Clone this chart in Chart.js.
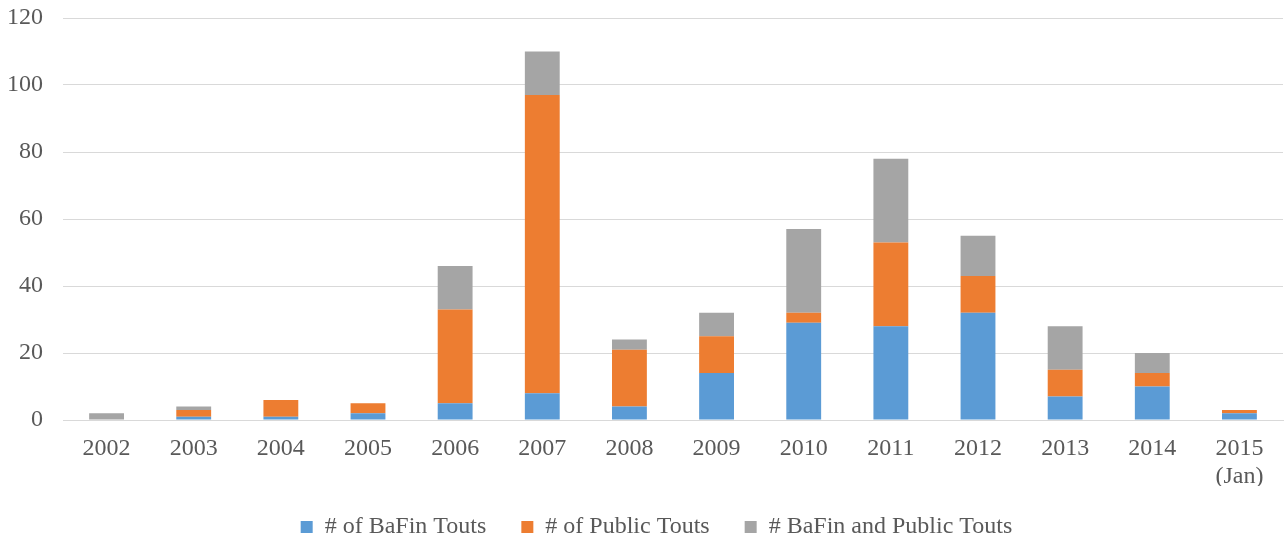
<!DOCTYPE html>
<html><head><meta charset="utf-8">
<script src="https://cdn.jsdelivr.net/npm/chart.js@4/dist/chart.umd.min.js"></script>
<style>html,body{margin:0;padding:0;background:#fff}#wrap{width:1287px;height:544px}</style>
</head><body><div id="wrap"><canvas id="c" width="1287" height="544"></canvas></div>
<script>
const categories = ["2002","2003","2004","2005","2006","2007","2008","2009","2010","2011","2012","2013","2014",["2015","(Jan)"]];
const bafinTouts = [0,1,1,2,5,8,4,14,29,28,32,7,10,2];
const publicTouts = [0,2,5,3,28,89,17,11,3,25,11,8,4,1];
const bothTouts = [2,1,0,0,13,13,3,7,25,25,12,13,6,0];
const yTicks = [0,20,40,60,80,100,120];

const font = {family:"'Liberation Serif','Times New Roman',serif", size:24};
const legendShift = {
  id:'legendShift',
  afterLayout(chart){
    const lg = chart.legend;
    if (!lg) return;
    lg.top -= 6; lg.bottom -= 6;
    lg.left += 15; lg.right += 15;
  }
};
const chart = new Chart(document.getElementById('c'), {
  type:'bar',
  data:{labels:categories, datasets:[
    {label:'# of BaFin Touts', data:bafinTouts, backgroundColor:'#5B9BD5'},
    {label:'# of Public Touts', data:publicTouts, backgroundColor:'#ED7D31'},
    {label:'# BaFin and Public Touts', data:bothTouts, backgroundColor:'#A5A5A5'}
  ]},
  options:{
    responsive:false, animation:false,
    layout:{padding:{top:18,right:4,left:0,bottom:0}},
    datasets:{bar:{categoryPercentage:0.4, barPercentage:1}},
    plugins:{
      legend:{position:'bottom', labels:{font:font, color:'#595959', boxWidth:12, boxHeight:12, padding:35}},
      tooltip:{enabled:false}
    },
    scales:{
      x:{stacked:true, grid:{display:false}, border:{color:'#D9D9D9', width:1},
        ticks:{font:font, color:'#595959', padding:6},
        afterFit:(s)=>{s.height=66;}},
      y:{stacked:true, min:0, max:120, afterBuildTicks:(s)=>{s.ticks=yTicks.map(v=>({value:v}));},
        grid:{color:'#D9D9D9', drawTicks:true, tickLength:20, tickColor:'rgba(0,0,0,0)'}, border:{display:false},
        ticks:{font:font, color:'#595959', padding:0},
        afterFit:(s)=>{s.width=63;}}
    }
  },
  plugins:[legendShift]
});
const origFit = chart.legend.fit;
chart.legend.fit = function(){ origFit.call(this); this.height = 58; };
chart.update();
</script></body></html>
